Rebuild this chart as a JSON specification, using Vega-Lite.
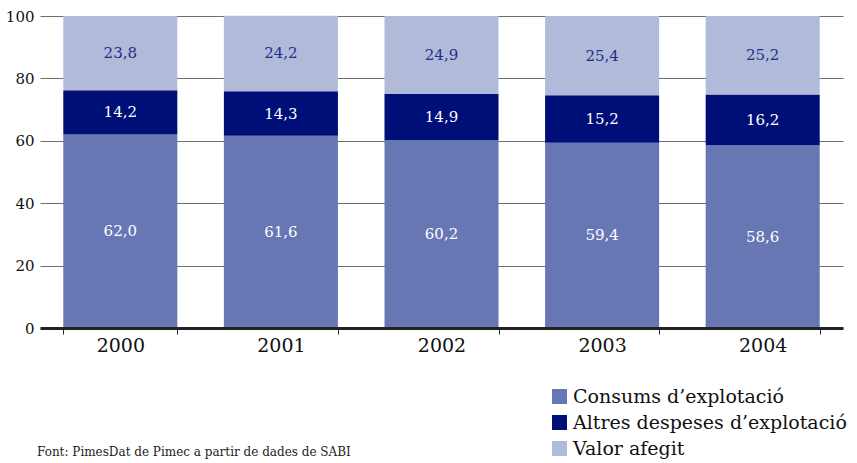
{
  "$schema": "https://vega.github.io/schema/vega-lite/v6.json",
  "width": 803,
  "height": 312,
  "autosize": {"type": "none"},
  "padding": {"left": 40, "top": 16, "right": 14, "bottom": 135},
  "background": "white",
  "config": {
    "view": {"stroke": null},
    "font": "DejaVu Serif",
    "locale": {"number": {"decimal": ",", "thousands": ".", "grouping": [3], "currency": ["", " €"]}}
  },
  "title": {
    "text": "Font: PimesDat de Pimec a partir de dades de SABI",
    "orient": "bottom",
    "anchor": "start",
    "frame": "group",
    "offset": 0,
    "dy": -12,
    "dx": -3,
    "font": "DejaVu Serif",
    "fontSize": 12,
    "fontWeight": "normal",
    "color": "#222222"
  },
  "data": {
    "values": [
      {"year": "2000", "serie": "Consums d’explotació", "k": 1, "v": 62.0},
      {"year": "2000", "serie": "Altres despeses d’explotació", "k": 2, "v": 14.2},
      {"year": "2000", "serie": "Valor afegit", "k": 3, "v": 23.8},
      {"year": "2001", "serie": "Consums d’explotació", "k": 1, "v": 61.6},
      {"year": "2001", "serie": "Altres despeses d’explotació", "k": 2, "v": 14.3},
      {"year": "2001", "serie": "Valor afegit", "k": 3, "v": 24.2},
      {"year": "2002", "serie": "Consums d’explotació", "k": 1, "v": 60.2},
      {"year": "2002", "serie": "Altres despeses d’explotació", "k": 2, "v": 14.9},
      {"year": "2002", "serie": "Valor afegit", "k": 3, "v": 24.9},
      {"year": "2003", "serie": "Consums d’explotació", "k": 1, "v": 59.4},
      {"year": "2003", "serie": "Altres despeses d’explotació", "k": 2, "v": 15.2},
      {"year": "2003", "serie": "Valor afegit", "k": 3, "v": 25.4},
      {"year": "2004", "serie": "Consums d’explotació", "k": 1, "v": 58.6},
      {"year": "2004", "serie": "Altres despeses d’explotació", "k": 2, "v": 16.2},
      {"year": "2004", "serie": "Valor afegit", "k": 3, "v": 25.2}
    ]
  },
  "encoding": {
    "x": {
      "field": "year",
      "type": "nominal",
      "scale": {"paddingInner": 0.29, "paddingOuter": 0.145},
      "axis": {
        "title": null,
        "labelAngle": 0,
        "labelFontSize": 19,
        "labelColor": "#111111",
        "labelPadding": 2,
        "domainColor": "#222222",
        "domainWidth": 3,
        "tickColor": "#222222",
        "tickWidth": 1,
        "tickSize": 6,
        "tickBand": "extent",
        "zindex": 1
      }
    }
  },
  "layer": [
    {
      "mark": {"type": "bar"},
      "encoding": {
        "y": {
          "field": "v",
          "type": "quantitative",
          "stack": "zero",
          "scale": {"domain": [0, 100], "nice": false},
          "axis": {
            "title": null,
            "values": [0, 20, 40, 60, 80, 100],
            "domain": false,
            "ticks": false,
            "grid": true,
            "gridColor": "#6e6e6e",
            "gridWidth": 1,
            "labelFontSize": 15,
            "labelColor": "#111111",
            "labelPadding": 6
          }
        },
        "color": {
          "field": "serie",
          "type": "nominal",
          "scale": {
            "domain": ["Consums d’explotació", "Altres despeses d’explotació", "Valor afegit"],
            "range": ["#6677b3", "#000e78", "#b1bad9"]
          },
          "legend": {
            "title": null,
            "orient": "none",
            "legendX": 510,
            "legendY": 371,
            "symbolType": "square",
            "symbolSize": 225,
            "symbolStrokeWidth": 0,
            "labelFontSize": 19,
            "labelColor": "#111111",
            "labelFont": "DejaVu Serif",
            "rowPadding": 6,
            "labelLimit": 400
          }
        },
        "order": {"field": "k", "type": "quantitative", "sort": "ascending"}
      }
    },
    {
      "transform": [
        {"stack": "v", "groupby": ["year"], "sort": [{"field": "k", "order": "ascending"}], "as": ["v0", "v1"]},
        {"calculate": "(datum.v0 + datum.v1) / 2", "as": "mid"}
      ],
      "mark": {"type": "text", "fontSize": 15, "baseline": "middle", "align": "center"},
      "encoding": {
        "y": {"field": "mid", "type": "quantitative"},
        "text": {"field": "v", "type": "quantitative", "format": ".1f"},
        "color": {
          "condition": {"test": "datum.k === 3", "value": "#1f2d8c"},
          "value": "#ffffff"
        }
      }
    }
  ]
}
